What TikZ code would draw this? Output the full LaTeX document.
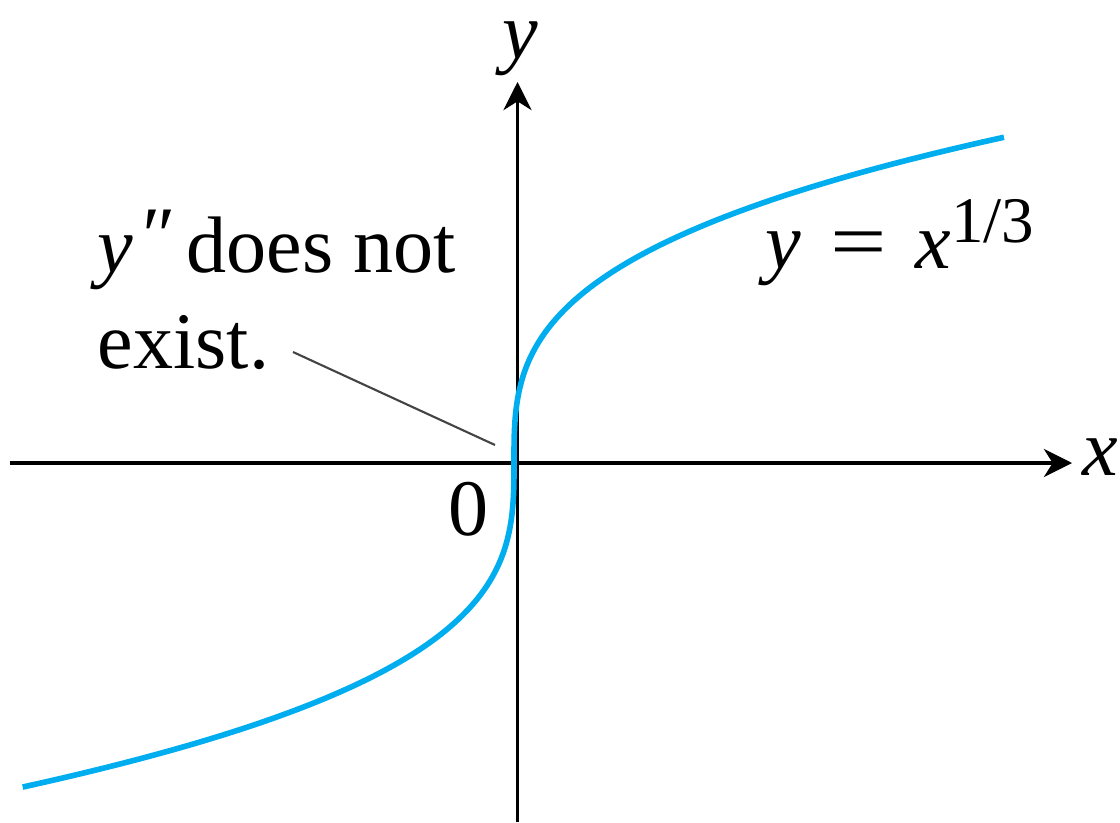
\documentclass[tikz,border=0pt]{standalone}
\usepackage{fontspec}
\usepackage{graphicx}
\setmainfont{Liberation Serif}
\usetikzlibrary{arrows.meta}
\definecolor{curveblue}{HTML}{00AEEF}
\definecolor{leadgray}{HTML}{444444}
\tikzset{
  axisline/.style={line width=1pt, black, -{Stealth[length=8pt,width=8pt,inset=2.5pt]}},
  curveline/.style={line width=1.6pt, curveblue},
  leaderline/.style={line width=0.6pt, leadgray},
  lbl/.style={inner sep=0pt, font=\fontsize{22.8}{27.4}\selectfont}
}
\begin{document}
\begin{tikzpicture}
\useasboundingbox (0,0) rectangle (11.2,8.22);
% axes
\coordinate (xstart) at (0.10,3.59);
\coordinate (xend) at (10.72,3.59);
\coordinate (ystart) at (5.175,0);
\coordinate (yend) at (5.175,7.40);
\draw[axisline] (xstart) -- (xend);
\draw[axisline] (ystart) -- (yend);
% curve y = x^{1/3}
\draw[curveline, shift={(5.14,3.60)}] plot[domain=-1.7:1.7, samples=241, smooth, variable=\t] ({\t*\t*\t},{1.912*\t});
% labels
\node[lbl, anchor=base] (ylab) at (5.20,7.63) {\itshape y};
\node[lbl, anchor=base] (xlab) at (11.00,3.47) {\itshape x};
\node[lbl, anchor=base] (zero) at (4.69,2.87) {0};
\node[lbl, anchor=base west] (eq) at (7.65,5.54) {\itshape y\upshape\hspace{0.36em}\scalebox{1.25}[1]{=}\hspace{0.36em}\itshape x\upshape\raisebox{0.32em}{\fontsize{18.5}{18.5}\selectfont 1/3}};
\node[lbl, anchor=base west] (note1) at (0.97,5.50) {\itshape y\kern0.05em\raisebox{0.12em}{″}\upshape\hspace{0.2em}does not};
\node[lbl, anchor=base west] (note2) at (0.97,4.54) {exist.};
% leader
\coordinate (leadA) at (2.93,4.70);
\coordinate (leadB) at (4.95,3.77);
\draw[leaderline] (leadA) -- (leadB);
\end{tikzpicture}
\end{document}
